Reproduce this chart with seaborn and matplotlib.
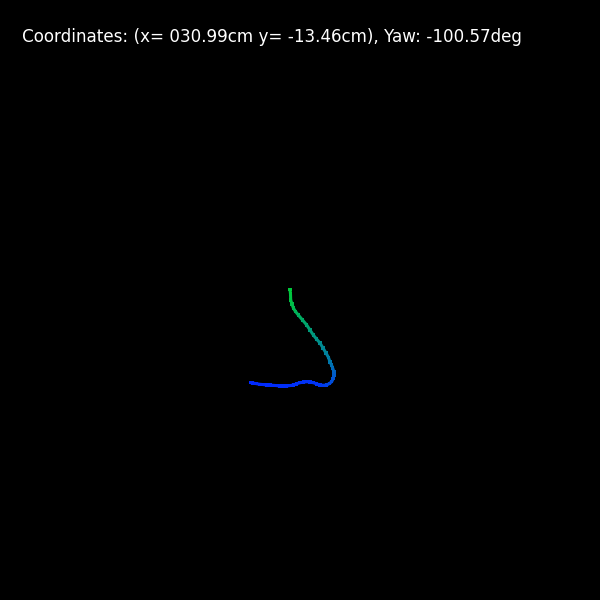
import numpy as np
import pandas as pd
import matplotlib
matplotlib.use("Agg")
import matplotlib.pyplot as plt
from matplotlib.collections import LineCollection
from matplotlib.colors import LinearSegmentedColormap
import seaborn as sns

# Trajectory points (screen units, y grows downward)
path_x = [290.0, 290.5, 290.7, 292.0, 293.3, 295.5, 298.3, 302.5, 306.7, 310.0, 313.3,
          316.5, 320.0, 323.0, 326.0, 328.5, 330.0, 331.5, 332.7, 333.8, 334.0, 333.2,
          331.7, 329.5, 326.7, 323.5, 320.0, 316.5, 313.3, 310.0, 306.7, 303.5, 300.0,
          296.5, 293.3, 290.0, 286.7, 283.5, 280.0, 276.5, 273.0, 270.0, 266.7, 263.5,
          260.0, 256.0, 252.5, 250.7]
path_y = [289.3, 294.0, 300.0, 304.0, 308.0, 311.5, 315.0, 320.0, 325.0, 330.0, 335.0,
          339.0, 343.0, 348.0, 353.0, 357.5, 362.0, 365.0, 368.0, 371.5, 375.0, 378.5,
          381.7, 383.5, 385.0, 385.3, 385.0, 383.8, 382.7, 382.0, 381.7, 382.2, 382.7,
          383.8, 385.0, 385.6, 386.0, 386.2, 386.0, 385.6, 385.3, 385.2, 385.0, 384.6,
          384.3, 383.6, 383.0, 382.7]

title_text = "Coordinates: (x= 030.99cm y= -13.46cm), Yaw: -100.57deg"

sns.set_theme(style="dark")
plt.rcParams['font.family'] = ['DejaVu Sans', 'DejaVu Sans Mono']

df = pd.DataFrame({"x": path_x, "y": path_y, "step": np.arange(len(path_x))})

cmap = LinearSegmentedColormap.from_list(
    "traj", [(0.0, "#00c83c"), (0.08, "#00b850"), (0.2, "#00987e"),
             (0.33, "#0078aa"), (0.45, "#0050d8"), (0.55, "#0034f4"),
             (1.0, "#0028ff")])

fig = plt.figure(figsize=(6, 6), dpi=100, facecolor="#000000")
ax = fig.add_axes([0, 0, 1, 1])
ax.set_facecolor("#000000")

pts = df[["x", "y"]].to_numpy().reshape(-1, 1, 2)
segs = np.concatenate([pts[:-1], pts[1:]], axis=1)
lc = LineCollection(segs, cmap=cmap, linewidth=2.2)
lc.set_array(df["step"].to_numpy()[:-1].astype(float))
lc.set_clim(0, len(path_x) - 1)
ax.add_collection(lc)

sns.scatterplot(data=df, x="x", y="y", hue="step", palette=cmap, s=6,
                marker="s", linewidth=0, legend=False, ax=ax)
ax.set_xlim(0, 600)
ax.set_ylim(600, 0)
ax.axis("off")

ax.text(22, 42, title_text, color="white", fontsize=12.1,
        ha="left", va="baseline")

fig.savefig("out.png", dpi=100, facecolor="#000000")
